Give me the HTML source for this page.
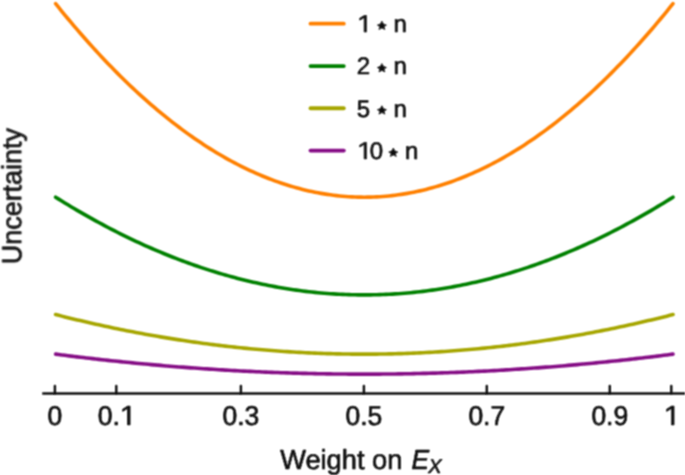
<!DOCTYPE html>
<html><head><meta charset="utf-8"><title>Uncertainty vs weight on E_X</title><style>
html,body{margin:0;padding:0;background:#fff;overflow:hidden;}
svg{display:block;}
text{font-family:"Liberation Sans",sans-serif;text-rendering:geometricPrecision;fill:#0a0a0a;stroke:#0a0a0a;stroke-width:0.6px;stroke-linejoin:round;}
.gh{fill-opacity:0;stroke-opacity:0;}
</style></head><body>
<svg width="685" height="475" viewBox="0 0 685 475">
<defs><filter id="bl" x="-5%" y="-5%" width="110%" height="110%"><feConvolveMatrix order="3" kernelMatrix="1 2 1 2 4 2 1 2 1" divisor="16" edgeMode="duplicate" preserveAlpha="false"/></filter></defs>
<rect width="685" height="475" fill="#fff"/>
<g filter="url(#bl)">
<g id="curves">
<path d="M55.6,3.65 L58.69,7.48 L61.77,11.28 L64.86,15.04 L67.95,18.76 L71.03,22.44 L74.12,26.09 L77.21,29.7 L80.3,33.26 L83.38,36.8 L86.47,40.29 L89.56,43.74 L92.64,47.16 L95.73,50.54 L98.82,53.88 L101.91,57.18 L104.99,60.44 L108.08,63.67 L111.17,66.85 L114.25,70 L117.34,73.11 L120.43,76.19 L123.51,79.22 L126.6,82.22 L129.69,85.18 L132.78,88.1 L135.86,90.98 L138.95,93.82 L142.04,96.62 L145.12,99.39 L148.21,102.12 L151.3,104.81 L154.38,107.46 L157.47,110.07 L160.56,112.65 L163.65,115.18 L166.73,117.68 L169.82,120.14 L172.91,122.56 L175.99,124.95 L179.08,127.29 L182.17,129.6 L185.25,131.86 L188.34,134.09 L191.43,136.28 L194.51,138.43 L197.6,140.55 L200.69,142.62 L203.78,144.66 L206.86,146.65 L209.95,148.61 L213.04,150.53 L216.12,152.42 L219.21,154.26 L222.3,156.06 L225.38,157.83 L228.47,159.56 L231.56,161.25 L234.65,162.9 L237.73,164.51 L240.82,166.08 L243.91,167.61 L246.99,169.11 L250.08,170.57 L253.17,171.98 L256.25,173.36 L259.34,174.7 L262.43,176.01 L265.52,177.27 L268.6,178.49 L271.69,179.68 L274.78,180.82 L277.86,181.93 L280.95,183 L284.04,184.03 L287.12,185.02 L290.21,185.98 L293.3,186.89 L296.39,187.76 L299.47,188.6 L302.56,189.4 L305.65,190.16 L308.73,190.88 L311.82,191.56 L314.91,192.2 L318,192.8 L321.08,193.37 L324.17,193.89 L327.26,194.38 L330.34,194.83 L333.43,195.23 L336.52,195.6 L339.6,195.93 L342.69,196.23 L345.78,196.48 L348.87,196.69 L351.95,196.87 L355.04,197 L358.13,197.1 L361.21,197.16 L364.3,197.18 L367.39,197.16 L370.47,197.1 L373.56,197 L376.65,196.87 L379.74,196.69 L382.82,196.48 L385.91,196.23 L389,195.93 L392.08,195.6 L395.17,195.23 L398.26,194.83 L401.34,194.38 L404.43,193.89 L407.52,193.37 L410.61,192.8 L413.69,192.2 L416.78,191.56 L419.87,190.88 L422.95,190.16 L426.04,189.4 L429.13,188.6 L432.21,187.76 L435.3,186.89 L438.39,185.98 L441.48,185.02 L444.56,184.03 L447.65,183 L450.74,181.93 L453.82,180.82 L456.91,179.68 L460,178.49 L463.08,177.27 L466.17,176.01 L469.26,174.7 L472.35,173.36 L475.43,171.98 L478.52,170.57 L481.61,169.11 L484.69,167.61 L487.78,166.08 L490.87,164.51 L493.95,162.9 L497.04,161.25 L500.13,159.56 L503.21,157.83 L506.3,156.06 L509.39,154.26 L512.48,152.42 L515.56,150.53 L518.65,148.61 L521.74,146.65 L524.82,144.66 L527.91,142.62 L531,140.55 L534.09,138.43 L537.17,136.28 L540.26,134.09 L543.35,131.86 L546.43,129.6 L549.52,127.29 L552.61,124.95 L555.69,122.56 L558.78,120.14 L561.87,117.68 L564.96,115.18 L568.04,112.65 L571.13,110.07 L574.22,107.46 L577.3,104.81 L580.39,102.12 L583.48,99.39 L586.56,96.62 L589.65,93.82 L592.74,90.98 L595.83,88.1 L598.91,85.18 L602,82.22 L605.09,79.22 L608.17,76.19 L611.26,73.11 L614.35,70 L617.43,66.85 L620.52,63.67 L623.61,60.44 L626.7,57.18 L629.78,53.88 L632.87,50.54 L635.96,47.16 L639.04,43.74 L642.13,40.29 L645.22,36.8 L648.3,33.26 L651.39,29.7 L654.48,26.09 L657.56,22.44 L660.65,18.76 L663.74,15.04 L666.83,11.28 L669.91,7.48 L673,3.65" stroke="#ff8000" stroke-width="3.6" fill="none" stroke-linecap="round" stroke-linejoin="round"/>
<path d="M55.6,197.18 L58.69,199.12 L61.77,201.03 L64.86,202.93 L67.95,204.81 L71.03,206.67 L74.12,208.51 L77.21,210.33 L80.3,212.13 L83.38,213.91 L86.47,215.68 L89.56,217.42 L92.64,219.15 L95.73,220.85 L98.82,222.54 L101.91,224.2 L104.99,225.85 L108.08,227.48 L111.17,229.09 L114.25,230.68 L117.34,232.25 L120.43,233.8 L123.51,235.33 L126.6,236.85 L129.69,238.34 L132.78,239.81 L135.86,241.27 L138.95,242.7 L142.04,244.12 L145.12,245.52 L148.21,246.89 L151.3,248.25 L154.38,249.59 L157.47,250.91 L160.56,252.21 L163.65,253.49 L166.73,254.75 L169.82,255.99 L172.91,257.22 L175.99,258.42 L179.08,259.6 L182.17,260.77 L185.25,261.91 L188.34,263.04 L191.43,264.14 L194.51,265.23 L197.6,266.29 L200.69,267.34 L203.78,268.37 L206.86,269.38 L209.95,270.37 L213.04,271.34 L216.12,272.29 L219.21,273.22 L222.3,274.13 L225.38,275.02 L228.47,275.89 L231.56,276.75 L234.65,277.58 L237.73,278.39 L240.82,279.19 L243.91,279.96 L246.99,280.72 L250.08,281.45 L253.17,282.17 L256.25,282.86 L259.34,283.54 L262.43,284.2 L265.52,284.83 L268.6,285.45 L271.69,286.05 L274.78,286.63 L277.86,287.19 L280.95,287.73 L284.04,288.25 L287.12,288.75 L290.21,289.23 L293.3,289.69 L296.39,290.13 L299.47,290.56 L302.56,290.96 L305.65,291.34 L308.73,291.71 L311.82,292.05 L314.91,292.37 L318,292.68 L321.08,292.96 L324.17,293.23 L327.26,293.47 L330.34,293.7 L333.43,293.91 L336.52,294.09 L339.6,294.26 L342.69,294.41 L345.78,294.53 L348.87,294.64 L351.95,294.73 L355.04,294.8 L358.13,294.85 L361.21,294.88 L364.3,294.89 L367.39,294.88 L370.47,294.85 L373.56,294.8 L376.65,294.73 L379.74,294.64 L382.82,294.53 L385.91,294.41 L389,294.26 L392.08,294.09 L395.17,293.91 L398.26,293.7 L401.34,293.47 L404.43,293.23 L407.52,292.96 L410.61,292.68 L413.69,292.37 L416.78,292.05 L419.87,291.71 L422.95,291.34 L426.04,290.96 L429.13,290.56 L432.21,290.13 L435.3,289.69 L438.39,289.23 L441.48,288.75 L444.56,288.25 L447.65,287.73 L450.74,287.19 L453.82,286.63 L456.91,286.05 L460,285.45 L463.08,284.83 L466.17,284.2 L469.26,283.54 L472.35,282.86 L475.43,282.17 L478.52,281.45 L481.61,280.72 L484.69,279.96 L487.78,279.19 L490.87,278.39 L493.95,277.58 L497.04,276.75 L500.13,275.89 L503.21,275.02 L506.3,274.13 L509.39,273.22 L512.48,272.29 L515.56,271.34 L518.65,270.37 L521.74,269.38 L524.82,268.37 L527.91,267.34 L531,266.29 L534.09,265.23 L537.17,264.14 L540.26,263.04 L543.35,261.91 L546.43,260.77 L549.52,259.6 L552.61,258.42 L555.69,257.22 L558.78,255.99 L561.87,254.75 L564.96,253.49 L568.04,252.21 L571.13,250.91 L574.22,249.59 L577.3,248.25 L580.39,246.89 L583.48,245.52 L586.56,244.12 L589.65,242.7 L592.74,241.27 L595.83,239.81 L598.91,238.34 L602,236.85 L605.09,235.33 L608.17,233.8 L611.26,232.25 L614.35,230.68 L617.43,229.09 L620.52,227.48 L623.61,225.85 L626.7,224.2 L629.78,222.54 L632.87,220.85 L635.96,219.15 L639.04,217.42 L642.13,215.68 L645.22,213.91 L648.3,212.13 L651.39,210.33 L654.48,208.51 L657.56,206.67 L660.65,204.81 L663.74,202.93 L666.83,201.03 L669.91,199.12 L673,197.18" stroke="#008000" stroke-width="3.6" fill="none" stroke-linecap="round" stroke-linejoin="round"/>
<path d="M55.6,314.56 L58.69,315.35 L61.77,316.13 L64.86,316.89 L67.95,317.66 L71.03,318.41 L74.12,319.15 L77.21,319.89 L80.3,320.62 L83.38,321.34 L86.47,322.06 L89.56,322.77 L92.64,323.46 L95.73,324.16 L98.82,324.84 L101.91,325.51 L104.99,326.18 L108.08,326.84 L111.17,327.49 L114.25,328.14 L117.34,328.77 L120.43,329.4 L123.51,330.02 L126.6,330.64 L129.69,331.24 L132.78,331.84 L135.86,332.43 L138.95,333.01 L142.04,333.58 L145.12,334.15 L148.21,334.71 L151.3,335.26 L154.38,335.8 L157.47,336.33 L160.56,336.86 L163.65,337.38 L166.73,337.89 L169.82,338.39 L172.91,338.89 L175.99,339.38 L179.08,339.86 L182.17,340.33 L185.25,340.79 L188.34,341.25 L191.43,341.7 L194.51,342.14 L197.6,342.57 L200.69,342.99 L203.78,343.41 L206.86,343.82 L209.95,344.22 L213.04,344.61 L216.12,345 L219.21,345.37 L222.3,345.74 L225.38,346.1 L228.47,346.46 L231.56,346.8 L234.65,347.14 L237.73,347.47 L240.82,347.79 L243.91,348.1 L246.99,348.41 L250.08,348.71 L253.17,349 L256.25,349.28 L259.34,349.55 L262.43,349.82 L265.52,350.08 L268.6,350.33 L271.69,350.57 L274.78,350.81 L277.86,351.03 L280.95,351.25 L284.04,351.46 L287.12,351.67 L290.21,351.86 L293.3,352.05 L296.39,352.23 L299.47,352.4 L302.56,352.56 L305.65,352.72 L308.73,352.86 L311.82,353 L314.91,353.13 L318,353.26 L321.08,353.37 L324.17,353.48 L327.26,353.58 L330.34,353.67 L333.43,353.75 L336.52,353.83 L339.6,353.9 L342.69,353.96 L345.78,354.01 L348.87,354.05 L351.95,354.09 L355.04,354.12 L358.13,354.14 L361.21,354.15 L364.3,354.15 L367.39,354.15 L370.47,354.14 L373.56,354.12 L376.65,354.09 L379.74,354.05 L382.82,354.01 L385.91,353.96 L389,353.9 L392.08,353.83 L395.17,353.75 L398.26,353.67 L401.34,353.58 L404.43,353.48 L407.52,353.37 L410.61,353.26 L413.69,353.13 L416.78,353 L419.87,352.86 L422.95,352.72 L426.04,352.56 L429.13,352.4 L432.21,352.23 L435.3,352.05 L438.39,351.86 L441.48,351.67 L444.56,351.46 L447.65,351.25 L450.74,351.03 L453.82,350.81 L456.91,350.57 L460,350.33 L463.08,350.08 L466.17,349.82 L469.26,349.55 L472.35,349.28 L475.43,349 L478.52,348.71 L481.61,348.41 L484.69,348.1 L487.78,347.79 L490.87,347.47 L493.95,347.14 L497.04,346.8 L500.13,346.46 L503.21,346.1 L506.3,345.74 L509.39,345.37 L512.48,345 L515.56,344.61 L518.65,344.22 L521.74,343.82 L524.82,343.41 L527.91,342.99 L531,342.57 L534.09,342.14 L537.17,341.7 L540.26,341.25 L543.35,340.79 L546.43,340.33 L549.52,339.86 L552.61,339.38 L555.69,338.89 L558.78,338.39 L561.87,337.89 L564.96,337.38 L568.04,336.86 L571.13,336.33 L574.22,335.8 L577.3,335.26 L580.39,334.71 L583.48,334.15 L586.56,333.58 L589.65,333.01 L592.74,332.43 L595.83,331.84 L598.91,331.24 L602,330.64 L605.09,330.02 L608.17,329.4 L611.26,328.77 L614.35,328.14 L617.43,327.49 L620.52,326.84 L623.61,326.18 L626.7,325.51 L629.78,324.84 L632.87,324.16 L635.96,323.46 L639.04,322.77 L642.13,322.06 L645.22,321.34 L648.3,320.62 L651.39,319.89 L654.48,319.15 L657.56,318.41 L660.65,317.66 L663.74,316.89 L666.83,316.13 L669.91,315.35 L673,314.56" stroke="#a6a600" stroke-width="3.6" fill="none" stroke-linecap="round" stroke-linejoin="round"/>
<path d="M55.6,354.15 L58.69,354.55 L61.77,354.94 L64.86,355.33 L67.95,355.71 L71.03,356.09 L74.12,356.47 L77.21,356.84 L80.3,357.21 L83.38,357.58 L86.47,357.94 L89.56,358.29 L92.64,358.65 L95.73,358.99 L98.82,359.34 L101.91,359.68 L104.99,360.02 L108.08,360.35 L111.17,360.68 L114.25,361.01 L117.34,361.33 L120.43,361.64 L123.51,361.96 L126.6,362.27 L129.69,362.57 L132.78,362.87 L135.86,363.17 L138.95,363.46 L142.04,363.75 L145.12,364.04 L148.21,364.32 L151.3,364.6 L154.38,364.87 L157.47,365.14 L160.56,365.41 L163.65,365.67 L166.73,365.93 L169.82,366.18 L172.91,366.43 L175.99,366.68 L179.08,366.92 L182.17,367.16 L185.25,367.39 L188.34,367.62 L191.43,367.85 L194.51,368.07 L197.6,368.29 L200.69,368.5 L203.78,368.72 L206.86,368.92 L209.95,369.12 L213.04,369.32 L216.12,369.52 L219.21,369.71 L222.3,369.89 L225.38,370.08 L228.47,370.25 L231.56,370.43 L234.65,370.6 L237.73,370.77 L240.82,370.93 L243.91,371.09 L246.99,371.24 L250.08,371.39 L253.17,371.54 L256.25,371.68 L259.34,371.82 L262.43,371.95 L265.52,372.08 L268.6,372.21 L271.69,372.33 L274.78,372.45 L277.86,372.56 L280.95,372.68 L284.04,372.78 L287.12,372.88 L290.21,372.98 L293.3,373.08 L296.39,373.17 L299.47,373.25 L302.56,373.34 L305.65,373.41 L308.73,373.49 L311.82,373.56 L314.91,373.63 L318,373.69 L321.08,373.75 L324.17,373.8 L327.26,373.85 L330.34,373.9 L333.43,373.94 L336.52,373.98 L339.6,374.01 L342.69,374.04 L345.78,374.07 L348.87,374.09 L351.95,374.11 L355.04,374.12 L358.13,374.13 L361.21,374.14 L364.3,374.14 L367.39,374.14 L370.47,374.13 L373.56,374.12 L376.65,374.11 L379.74,374.09 L382.82,374.07 L385.91,374.04 L389,374.01 L392.08,373.98 L395.17,373.94 L398.26,373.9 L401.34,373.85 L404.43,373.8 L407.52,373.75 L410.61,373.69 L413.69,373.63 L416.78,373.56 L419.87,373.49 L422.95,373.41 L426.04,373.34 L429.13,373.25 L432.21,373.17 L435.3,373.08 L438.39,372.98 L441.48,372.88 L444.56,372.78 L447.65,372.68 L450.74,372.56 L453.82,372.45 L456.91,372.33 L460,372.21 L463.08,372.08 L466.17,371.95 L469.26,371.82 L472.35,371.68 L475.43,371.54 L478.52,371.39 L481.61,371.24 L484.69,371.09 L487.78,370.93 L490.87,370.77 L493.95,370.6 L497.04,370.43 L500.13,370.25 L503.21,370.08 L506.3,369.89 L509.39,369.71 L512.48,369.52 L515.56,369.32 L518.65,369.12 L521.74,368.92 L524.82,368.72 L527.91,368.5 L531,368.29 L534.09,368.07 L537.17,367.85 L540.26,367.62 L543.35,367.39 L546.43,367.16 L549.52,366.92 L552.61,366.68 L555.69,366.43 L558.78,366.18 L561.87,365.93 L564.96,365.67 L568.04,365.41 L571.13,365.14 L574.22,364.87 L577.3,364.6 L580.39,364.32 L583.48,364.04 L586.56,363.75 L589.65,363.46 L592.74,363.17 L595.83,362.87 L598.91,362.57 L602,362.27 L605.09,361.96 L608.17,361.64 L611.26,361.33 L614.35,361.01 L617.43,360.68 L620.52,360.35 L623.61,360.02 L626.7,359.68 L629.78,359.34 L632.87,358.99 L635.96,358.65 L639.04,358.29 L642.13,357.94 L645.22,357.58 L648.3,357.21 L651.39,356.84 L654.48,356.47 L657.56,356.09 L660.65,355.71 L663.74,355.33 L666.83,354.94 L669.91,354.55 L673,354.15" stroke="#850a85" stroke-width="3.6" fill="none" stroke-linecap="round" stroke-linejoin="round"/>
</g>
<g id="axis" stroke="#0a0a0a">
<line x1="42.3" y1="393.5" x2="685" y2="393.5" stroke-width="2.6"/>
<g stroke-width="2.4" stroke-linecap="round">
<line x1="54.9" y1="385.9" x2="54.9" y2="393.5"/>
<line x1="116.27" y1="385.9" x2="116.27" y2="393.5"/>
<line x1="240.9" y1="385.9" x2="240.9" y2="393.5"/>
<line x1="363.9" y1="385.9" x2="363.9" y2="393.5"/>
<line x1="486.8" y1="385.9" x2="486.8" y2="393.5"/>
<line x1="609.8" y1="385.9" x2="609.8" y2="393.5"/>
<line x1="671.27" y1="385.9" x2="671.27" y2="393.5"/>
</g>
</g>
<g id="legend-lines" stroke-width="3.8" stroke-linecap="round">
<line x1="310.5" y1="23.65" x2="343.8" y2="23.65" stroke="#ff8000"/>
<line x1="310.5" y1="66.05" x2="343.8" y2="66.05" stroke="#008000"/>
<line x1="310.5" y1="108.25" x2="343.8" y2="108.25" stroke="#a6a600"/>
<line x1="310.5" y1="150.55" x2="343.8" y2="150.55" stroke="#850a85"/>
</g>
<g id="labels">
<text transform="translate(54.9,424.9) scale(1,1.03)" text-anchor="middle" font-size="26.5">0</text>
<text transform="translate(116.27,424.9) scale(1,1.03)" text-anchor="middle" font-size="26.5">0.<tspan class="gh">1</tspan></text>
<text transform="translate(240.9,424.9) scale(1,1.03)" text-anchor="middle" font-size="26.5">0.3</text>
<text transform="translate(363.9,424.9) scale(1,1.03)" text-anchor="middle" font-size="26.5">0.5</text>
<text transform="translate(486.8,424.9) scale(1,1.03)" text-anchor="middle" font-size="26.5">0.7</text>
<text transform="translate(609.8,424.9) scale(1,1.03)" text-anchor="middle" font-size="26.5">0.9</text>
<text transform="translate(671.27,424.9) scale(1,1.03)" text-anchor="middle" font-size="26.5"><tspan class="gh">1</tspan></text>
<text y="32.0" font-size="24"><tspan x="357.3" class="gh">1</tspan><tspan x="377.3" class="gh">&#x22C6;</tspan><tspan x="393.5">n</tspan></text>
<text y="74.4" font-size="24"><tspan x="356.7">2</tspan><tspan x="377.3" class="gh">&#x22C6;</tspan><tspan x="393.5">n</tspan></text>
<text y="116.6" font-size="24"><tspan x="356.8">5</tspan><tspan x="377.3" class="gh">&#x22C6;</tspan><tspan x="393.5">n</tspan></text>
<text y="158.9" font-size="24"><tspan x="357.3" class="gh">1</tspan><tspan x="369.7">0</tspan><tspan x="388.7" class="gh">&#x22C6;</tspan><tspan x="404.9">n</tspan></text>
<text transform="translate(280.2,468.9) scale(0.99,1)" font-size="27.5">Weight on</text>
<text transform="translate(411.4,469) scale(0.96,1)" font-size="27.5" font-style="italic">E</text>
<text x="428.3" y="472.9" font-size="20" font-style="italic">X</text>
<text transform="translate(21.2,264.3) rotate(-90) scale(0.98,1)" font-size="27.5">Uncertainty</text>
</g>
<path id="stars" fill="#0a0a0a" stroke="#0a0a0a" stroke-width="0.6" stroke-linejoin="round" d="M381.9,21.1 L383.42,23.97 L386.5,25.1 L384.02,26.58 L384.9,29.6 L381.9,28 L378.9,29.6 L379.78,26.58 L377.3,25.1 L380.38,23.97Z M381.9,63.5 L383.42,66.37 L386.5,67.5 L384.02,68.98 L384.9,72 L381.9,70.4 L378.9,72 L379.78,68.98 L377.3,67.5 L380.38,66.37Z M381.9,105.7 L383.42,108.57 L386.5,109.7 L384.02,111.18 L384.9,114.2 L381.9,112.6 L378.9,114.2 L379.78,111.18 L377.3,109.7 L380.38,108.57Z M393.3,148 L394.82,150.87 L397.9,152 L395.42,153.48 L396.3,156.5 L393.3,154.9 L390.3,156.5 L391.18,153.48 L388.7,152 L391.78,150.87Z"/>
<path id="ones" fill="#0a0a0a" stroke="#0a0a0a" stroke-width="0.6" stroke-linejoin="round" d="M127.52 424.9V408.57L122.6 411.44V409.24L127.59 406.12H130.11V424.9H127.52Z M671.47 424.9V408.57L666.55 411.44V409.24L671.54 406.12H674.06V424.9H671.47Z M364.16 32V17.64L359.7 20.16V18.23L364.21 15.49H366.5V32H364.16Z M364.16 158.9V144.54L359.7 147.06V145.13L364.21 142.39H366.5V158.9H364.16Z"/>
</g>
</svg>
</body></html>
